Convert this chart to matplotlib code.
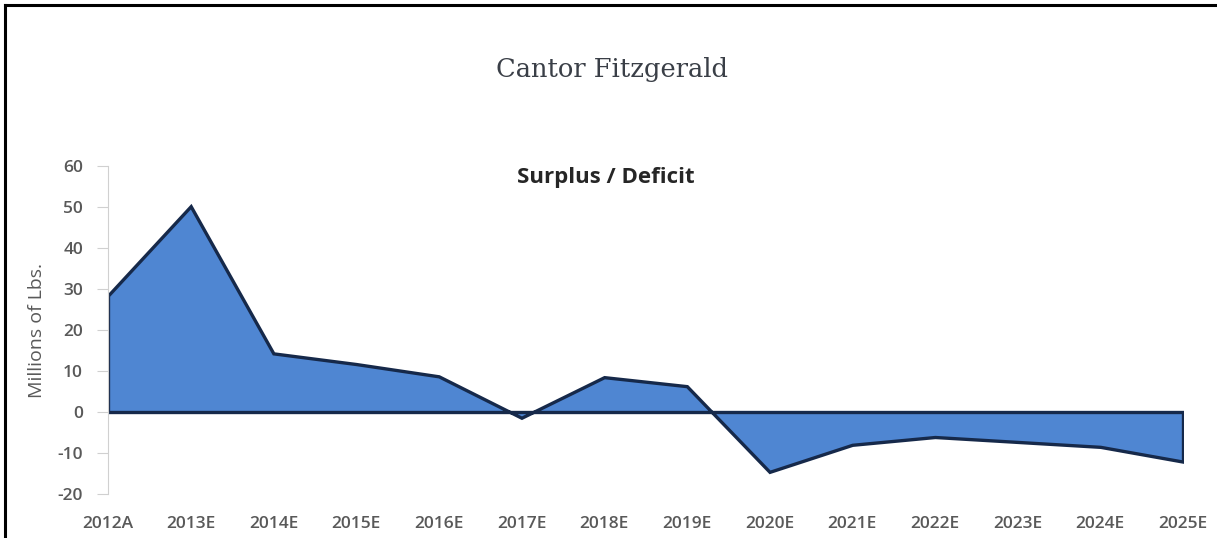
import matplotlib.pyplot as plt
from matplotlib.lines import Line2D

plt.rcParams["axes.unicode_minus"] = False

# Surplus / deficit by year (millions of lbs.)
years = ["2012A", "2013E", "2014E", "2015E", "2016E", "2017E", "2018E",
         "2019E", "2020E", "2021E", "2022E", "2023E", "2024E", "2025E"]
surplus = [28.4, 50.2, 14.3, 11.7, 8.7, -1.4, 8.5,
           6.3, -14.6, -8.0, -6.1, -7.3, -8.5, -12.1]
y_ticks = [-20, -10, 0, 10, 20, 30, 40, 50, 60]

W, H = 1217, 538
fig = plt.figure(figsize=(W / 100, H / 100), dpi=100)
ax = fig.add_axes([108 / W, 1 - 494 / H, (1183 - 108) / W, (494 - 166) / H])

x = list(range(len(years)))
ax.fill_between(x, surplus, 0, facecolor="#4f86d2", edgecolor="#16294a",
                linewidth=2.4, joinstyle="miter")

ax.set_xlim(0, len(years) - 1)
ax.set_ylim(-20, 60)
ax.set_yticks(y_ticks)
ax.set_xticks(x)
ax.set_xticklabels(years)

for s in ["top", "right", "bottom"]:
    ax.spines[s].set_visible(False)
ax.spines["left"].set_color("#d0d0d0")
ax.tick_params(axis="y", colors="#d0d0d0", labelcolor="#595959", length=8,
               labelsize=12.5, pad=10)
ax.tick_params(axis="x", length=0, labelcolor="#595959", labelsize=12.5, pad=16)
for lab in ax.get_xticklabels() + ax.get_yticklabels():
    lab.set_family("Open Sans")
    lab.set_fontweight("semibold")

ax.set_ylabel("Millions of Lbs.", family="Open Sans", fontsize=14,
              color="#595959", labelpad=8)

fig.text(606 / W, 1 - 177 / H, "Surplus / Deficit", ha="center", va="center",
         family="Open Sans", fontweight="bold", fontsize=16, color="#262626")
fig.text(612 / W, 1 - 70 / H, "Cantor Fitzgerald", ha="center", va="center",
         family="DejaVu Serif", fontsize=18.5, color="#3a3f47")

# page border (top and left only)
fig.add_artist(Line2D([5 / W, 1], [1 - 5 / H, 1 - 5 / H], color="black",
                      linewidth=2.2, transform=fig.transFigure))
fig.add_artist(Line2D([5 / W, 5 / W], [0, 1 - 5 / H], color="black",
                      linewidth=2.2, transform=fig.transFigure))

fig.savefig("out.png", dpi=100)
